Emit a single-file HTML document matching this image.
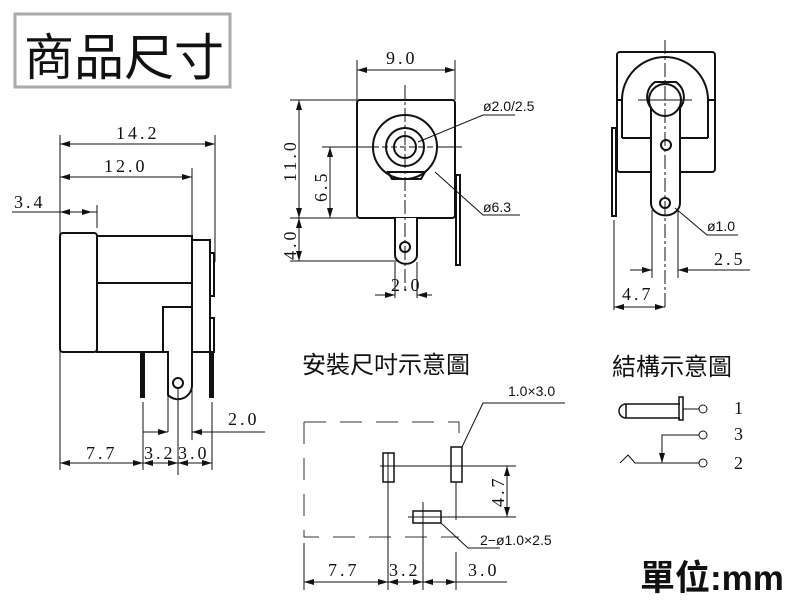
<!DOCTYPE html>
<html><head><meta charset="utf-8"><style>
html,body{margin:0;padding:0;background:#fff;width:800px;height:600px;overflow:hidden}
svg{display:block}
.d{font-family:"Liberation Serif",serif;font-size:18px;letter-spacing:3px;fill:#111}
.s{font-family:"Liberation Sans",sans-serif;font-size:14px;fill:#111}
.c{font-family:"Liberation Sans","Noto Sans CJK TC",sans-serif;fill:#111}
</style></head><body>
<svg width="800" height="600" viewBox="0 0 800 600" xmlns="http://www.w3.org/2000/svg">
<defs>
<marker id="a" viewBox="0 0 10 6" refX="10" refY="3" markerWidth="10" markerHeight="6" orient="auto-start-reverse" markerUnits="userSpaceOnUse"><path d="M0,0L10,3L0,6z" fill="#111"/></marker>
</defs>
<rect x="15" y="14" width="215" height="73" fill="#fff" stroke="#aaa" stroke-width="3"/>
<text x="24" y="75" class="c" font-size="50">商品尺寸</text>

<g stroke="#111" fill="none" stroke-width="1">
<!-- LEFT VIEW -->
<line x1="60" y1="135" x2="60" y2="470"/>
<line x1="215" y1="135" x2="215" y2="262"/>
<line x1="192" y1="168" x2="192" y2="235"/>
<line x1="97" y1="205" x2="97" y2="228"/>
<line x1="60" y1="144" x2="215" y2="144" marker-start="url(#a)" marker-end="url(#a)"/>
<line x1="60" y1="177" x2="192" y2="177" marker-start="url(#a)" marker-end="url(#a)"/>
<line x1="12" y1="212" x2="92" y2="212" marker-end="url(#a)"/>
<line x1="60" y1="212" x2="97" y2="212" marker-start="url(#a)"/>
<g stroke-width="2">
<rect x="60" y="233" width="37" height="119" rx="3"/>
<rect x="97" y="236" width="95" height="116"/>
<line x1="97" y1="283" x2="192" y2="283"/>
<path d="M192,240H210V352H192"/>
<rect x="210" y="253" width="4" height="43"/>
<rect x="210" y="318" width="4" height="34"/>
<path d="M163,307H192V385A14,14 0 0 1 168,395V352H163Z" fill="#fff"/>
<circle cx="178" cy="383" r="5"/>
<rect x="141" y="352" width="3" height="45" fill="#111"/>
<rect x="210" y="352" width="3" height="45" fill="#111"/>
</g>
<line x1="143" y1="402" x2="143" y2="470"/>
<line x1="168" y1="395" x2="168" y2="432"/>
<line x1="178" y1="388" x2="178" y2="475"/>
<line x1="192" y1="352" x2="192" y2="440"/>
<line x1="212" y1="402" x2="212" y2="470"/>
<line x1="143" y1="432" x2="168" y2="432" marker-end="url(#a)"/>
<line x1="265" y1="432" x2="192" y2="432" marker-end="url(#a)"/>
<line x1="60" y1="463" x2="143" y2="463" marker-start="url(#a)" marker-end="url(#a)"/>
<line x1="143" y1="463" x2="178" y2="463" marker-start="url(#a)" marker-end="url(#a)"/>
<line x1="178" y1="463" x2="212" y2="463" marker-start="url(#a)" marker-end="url(#a)"/>

<!-- FRONT VIEW -->
<line x1="357" y1="60" x2="357" y2="100"/>
<line x1="455" y1="60" x2="455" y2="100"/>
<line x1="357" y1="70" x2="455" y2="70" marker-start="url(#a)" marker-end="url(#a)"/>
<rect x="357" y="100" width="98" height="118" rx="3" stroke-width="2"/>
<line x1="290" y1="100" x2="357" y2="100"/>
<line x1="290" y1="218" x2="357" y2="218"/>
<line x1="290" y1="261" x2="400" y2="261"/>
<line x1="299" y1="100" x2="299" y2="218" marker-start="url(#a)" marker-end="url(#a)"/>
<line x1="299" y1="218" x2="299" y2="261" marker-start="url(#a)" marker-end="url(#a)"/>
<line x1="330" y1="147" x2="330" y2="218" marker-start="url(#a)" marker-end="url(#a)"/>
<g stroke-width="2">
<circle cx="405" cy="147" r="32"/>
<circle cx="405" cy="147" r="19"/>
<circle cx="405" cy="147" r="11"/>
<path d="M388,172H425L421,179H392Z"/>
<path d="M395,218V255A10,8 0 0 0 417,255V218" fill="#fff"/>
<circle cx="405" cy="247" r="5"/>
<rect x="456" y="175" width="4" height="90"/>
</g>
<line x1="322" y1="147" x2="373" y2="147"/>
<line x1="437" y1="147" x2="462" y2="147"/>
<line x1="373" y1="147" x2="437" y2="147" stroke-dasharray="6,3"/>
<line x1="405" y1="85" x2="405" y2="290" stroke-dasharray="14,3,3,3"/>
<path d="M418,142L483,115H515"/>
<path d="M435,172L483,215H520"/>
<line x1="395" y1="262" x2="395" y2="298"/>
<line x1="417" y1="262" x2="417" y2="298"/>
<line x1="375" y1="295" x2="395" y2="295" marker-end="url(#a)"/>
<line x1="432" y1="295" x2="417" y2="295" marker-end="url(#a)"/>

<!-- RIGHT VIEW -->
<g stroke-width="2">
<rect x="617" y="52" width="98" height="120" rx="3"/>
<path d="M622,138V100A43,43 0 0 1 708,100V138"/>
<line x1="617" y1="100" x2="622" y2="100"/>
<line x1="708" y1="100" x2="715" y2="100"/>
<line x1="622" y1="138" x2="651" y2="138"/>
<line x1="680" y1="138" x2="708" y2="138"/>
<path d="M651,108A18,18 0 0 1 655,82H676A18,18 0 0 1 680,108V203A14,12 0 0 1 651,203Z" fill="#fff"/>
<circle cx="665" cy="100" r="16"/>
<circle cx="666" cy="145" r="5"/>
<circle cx="665" cy="203" r="5"/>
<rect x="612" y="128" width="4" height="88"/>
</g>
<line x1="665" y1="40" x2="665" y2="310" stroke-dasharray="14,3,3,3"/>
<line x1="638" y1="100" x2="692" y2="100"/>
<path d="M675,208L707,235H738"/>
<line x1="652" y1="210" x2="652" y2="278"/>
<line x1="678" y1="210" x2="678" y2="278"/>
<line x1="630" y1="270" x2="652" y2="270" marker-end="url(#a)"/>
<line x1="750" y1="270" x2="678" y2="270" marker-end="url(#a)"/>
<line x1="614" y1="220" x2="614" y2="310"/>
<line x1="614" y1="307" x2="665" y2="307" marker-start="url(#a)" marker-end="url(#a)"/>

<!-- MOUNTING -->
<g stroke="#333" stroke-dasharray="22,14">
<path d="M304,422H459V440"/>
<path d="M304,422V537H459"/>
</g>
<g stroke-width="1.5">
<rect x="383" y="453" width="11" height="29"/>
<rect x="451" y="447" width="11" height="35"/>
<rect x="413" y="511" width="28" height="12"/>
</g>
<line x1="380" y1="466" x2="516" y2="466"/>
<line x1="408" y1="517" x2="516" y2="517"/>
<line x1="388" y1="453" x2="388" y2="590"/>
<line x1="423" y1="502" x2="423" y2="590"/>
<line x1="456" y1="482" x2="456" y2="520"/>
<line x1="456" y1="552" x2="456" y2="590"/>
<line x1="304" y1="543" x2="304" y2="590"/>
<line x1="507" y1="466" x2="507" y2="517" marker-start="url(#a)" marker-end="url(#a)"/>
<path d="M462,447L483,403H565"/>
<path d="M441,523L468,548H500"/>
<line x1="304" y1="582" x2="388" y2="582" marker-start="url(#a)" marker-end="url(#a)"/>
<line x1="388" y1="582" x2="423" y2="582" marker-start="url(#a)" marker-end="url(#a)"/>
<line x1="423" y1="582" x2="456" y2="582" marker-start="url(#a)" marker-end="url(#a)"/>
<line x1="456" y1="582" x2="507" y2="582"/>

<!-- SCHEMATIC -->
<path d="M680,404H626A7,7 0 0 0 626,418H680" stroke-width="1.5"/>
<line x1="626" y1="404" x2="626" y2="418" stroke-width="1.5"/>
<rect x="679" y="397" width="4" height="23" stroke-width="1.5"/>
<line x1="683" y1="409" x2="699" y2="409"/>
<circle cx="703" cy="409" r="4"/>
<path d="M699,435H662V463" />
<path d="M662,447V463" marker-end="url(#a)"/>
<circle cx="703" cy="435" r="4"/>
<path d="M620,463L628,455L635,463H699"/>
<circle cx="703" cy="463" r="4"/>
</g>

<!-- dimension texts -->
<text x="116" y="139" class="d">14.2</text>
<text x="104" y="172" class="d">12.0</text>
<text x="14" y="208" class="d">3.4</text>
<text x="228" y="425" class="d">2.0</text>
<text x="86" y="459" class="d">7.7</text>
<text x="144" y="459" class="d">3.2</text>
<text x="178" y="459" class="d">3.0</text>
<text x="386" y="64" class="d">9.0</text>
<text transform="translate(296,182) rotate(-90)" class="d">11.0</text>
<text transform="translate(327,202) rotate(-90)" class="d">6.5</text>
<text transform="translate(296,260) rotate(-90)" class="d">4.0</text>
<text x="391" y="291" class="d">2.0</text>
<text x="483" y="111" class="s">ø2.0/2.5</text>
<text x="483" y="212" class="s">ø6.3</text>
<text x="707" y="231" class="s" font-size="13">ø1.0</text>
<text x="714" y="265" class="d">2.5</text>
<text x="622" y="300" class="d">4.7</text>
<text x="508" y="396" class="s" font-size="13">1.0×3.0</text>
<text x="480" y="545" class="s">2−ø1.0×2.5</text>
<text transform="translate(504,507) rotate(-90)" class="d">4.7</text>
<text x="328" y="576" class="d">7.7</text>
<text x="389" y="576" class="d">3.2</text>
<text x="468" y="576" class="d">3.0</text>
<text x="734" y="414" class="d" font-size="15">1</text>
<text x="734" y="440" class="d" font-size="15">3</text>
<text x="734" y="469" class="d" font-size="15">2</text>
<text x="302" y="373" class="c" font-size="24">安裝尺吋示意圖</text>
<text x="612" y="375" class="c" font-size="24">結構示意圖</text>
<text x="640" y="590" class="c" font-size="35" font-weight="bold">單位:mm</text>
</svg>
</body></html>
